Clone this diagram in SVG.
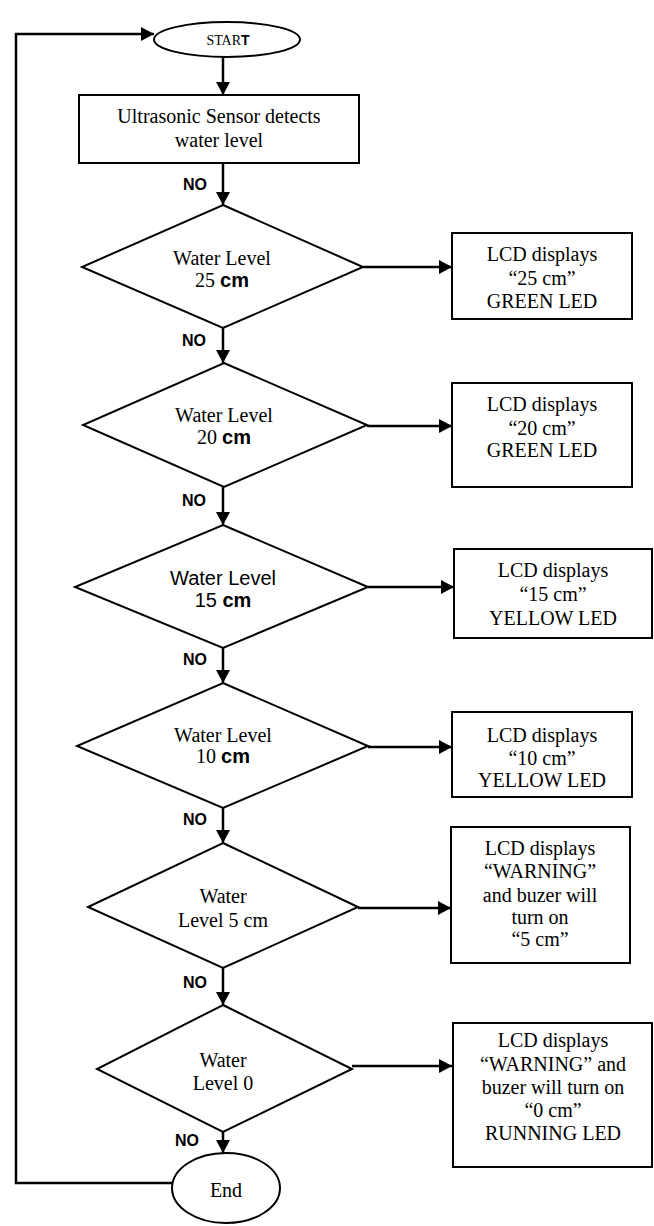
<svg xmlns="http://www.w3.org/2000/svg" width="654" height="1226" viewBox="0 0 654 1226">
<style>
.shape{fill:#fff;stroke:#000;stroke-width:2}
.con{fill:none;stroke:#000;stroke-width:2.5}
.t{font-family:"Liberation Serif","Times New Roman",serif;font-size:20px;fill:#000;text-anchor:middle}
.ts{font-family:"Liberation Sans",Arial,sans-serif;font-size:20px;fill:#000;text-anchor:middle}
.b{font-family:"Liberation Sans",Arial,sans-serif;font-weight:bold}
.no{font-family:"Liberation Sans",Arial,sans-serif;font-size:16px;font-weight:bold;fill:#000}
</style>
<defs>
<marker id="ah" markerUnits="userSpaceOnUse" markerWidth="14" markerHeight="14" refX="13" refY="7" orient="auto">
<path d="M0,0 L13,7 L0,14 z" fill="#000"/>
</marker>
</defs>
<rect width="654" height="1226" fill="#fff"/>
<g id="connectors">
<line class="con" x1="223" y1="57" x2="223" y2="95" marker-end="url(#ah)"/>
<line class="con" x1="223" y1="163" x2="223" y2="205" marker-end="url(#ah)"/>
<line class="con" x1="223" y1="328" x2="223" y2="363" marker-end="url(#ah)"/>
<line class="con" x1="223" y1="487" x2="223" y2="525" marker-end="url(#ah)"/>
<line class="con" x1="223" y1="648" x2="223" y2="683" marker-end="url(#ah)"/>
<line class="con" x1="223" y1="808" x2="223" y2="843" marker-end="url(#ah)"/>
<line class="con" x1="223" y1="968" x2="223" y2="1005" marker-end="url(#ah)"/>
<line class="con" x1="223" y1="1132" x2="223" y2="1153" marker-end="url(#ah)"/>
<line class="con" x1="363" y1="267" x2="452" y2="267" marker-end="url(#ah)"/>
<line class="con" x1="367" y1="426" x2="452" y2="426" marker-end="url(#ah)"/>
<line class="con" x1="368" y1="587" x2="454" y2="587" marker-end="url(#ah)"/>
<line class="con" x1="368" y1="747" x2="452" y2="747" marker-end="url(#ah)"/>
<line class="con" x1="358" y1="908" x2="451" y2="908" marker-end="url(#ah)"/>
<line class="con" x1="352" y1="1066" x2="452" y2="1066" marker-end="url(#ah)"/>
<polyline class="con" points="172,1183 16,1183 16,34 154,34" marker-end="url(#ah)"/>
<text class="no" x="183" y="190">NO</text>
<text class="no" x="182" y="346">NO</text>
<text class="no" x="182" y="506">NO</text>
<text class="no" x="183" y="665">NO</text>
<text class="no" x="183" y="825">NO</text>
<text class="no" x="183" y="988">NO</text>
<text class="no" x="175" y="1146">NO</text>
</g>
<g id="start">
<ellipse class="shape" cx="227" cy="39.5" rx="73" ry="17.5"/>
<text class="t" x="228" y="45" style="font-size:14px">STAR<tspan class="b">T</tspan></text>
</g>
<g id="sensor">
<rect class="shape" x="79" y="95" width="280" height="68"/>
<text class="t" x="219" y="123">Ultrasonic Sensor detects</text>
<text class="t" x="219" y="147">water level</text>
</g>
<g id="d25">
<polygon class="shape" points="223,205 363,267 223,328 82,267"/>
<text class="t" x="222" y="265">Water Level</text>
<text class="t" x="222" y="287">25 <tspan class="b">cm</tspan></text>
</g>
<g id="b25">
<rect class="shape" x="452" y="233" width="180" height="86"/>
<text class="t" x="542" y="261">LCD displays</text>
<text class="t" x="542" y="285">“25 cm”</text>
<text class="t" x="542" y="308">GREEN LED</text>
</g>
<g id="d20">
<polygon class="shape" points="224,363 367,425 224,487 83,425"/>
<text class="t" x="224" y="422">Water Level</text>
<text class="t" x="224" y="444">20 <tspan class="b">cm</tspan></text>
</g>
<g id="b20">
<rect class="shape" x="452" y="383" width="180" height="104"/>
<text class="t" x="542" y="411">LCD displays</text>
<text class="t" x="542" y="435">“20 cm”</text>
<text class="t" x="542" y="457">GREEN LED</text>
</g>
<g id="d15">
<polygon class="shape" points="223,525 368,587 223,648 75,587"/>
<text class="ts" x="223" y="585">Water Level</text>
<text class="ts" x="223" y="607">15 <tspan class="b">cm</tspan></text>
</g>
<g id="b15">
<rect class="shape" x="454" y="549" width="198" height="89"/>
<text class="t" x="553" y="577">LCD displays</text>
<text class="t" x="553" y="601">“15 cm”</text>
<text class="t" x="553" y="625">YELLOW LED</text>
</g>
<g id="d10">
<polygon class="shape" points="223,683 368,746 223,808 77,746"/>
<text class="t" x="223" y="742">Water Level</text>
<text class="t" x="223" y="763">10 <tspan class="b">cm</tspan></text>
</g>
<g id="b10">
<rect class="shape" x="452" y="712" width="180" height="85"/>
<text class="t" x="542" y="742">LCD displays</text>
<text class="t" x="542" y="765">“10 cm”</text>
<text class="t" x="542" y="787">YELLOW LED</text>
</g>
<g id="d5">
<polygon class="shape" points="223,843 358,907 223,968 88,907"/>
<text class="t" x="223" y="903">Water</text>
<text class="t" x="223" y="927">Level 5 cm</text>
</g>
<g id="b5">
<rect class="shape" x="451" y="827" width="179" height="136"/>
<text class="t" x="540" y="855">LCD displays</text>
<text class="t" x="540" y="878">“WARNING”</text>
<text class="t" x="540" y="902">and buzer will</text>
<text class="t" x="540" y="924">turn on</text>
<text class="t" x="540" y="946">“5 cm”</text>
</g>
<g id="d0">
<polygon class="shape" points="223,1005 352,1069 223,1132 97,1069"/>
<text class="t" x="223" y="1067">Water</text>
<text class="t" x="223" y="1090">Level 0</text>
</g>
<g id="b0">
<rect class="shape" x="453" y="1023" width="199" height="144"/>
<text class="t" x="553" y="1047">LCD displays</text>
<text class="t" x="553" y="1071">“WARNING” and</text>
<text class="t" x="553" y="1094">buzer will turn on</text>
<text class="t" x="553" y="1117">“0 cm”</text>
<text class="t" x="553" y="1140">RUNNING LED</text>
</g>
<g id="end">
<ellipse class="shape" cx="226" cy="1188" rx="54" ry="35"/>
<text class="t" x="226" y="1197">End</text>
</g>
</svg>
